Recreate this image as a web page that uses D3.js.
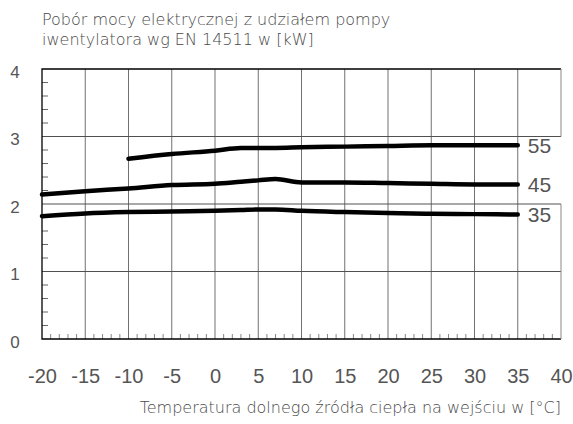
<!DOCTYPE html>
<html>
<head>
<meta charset="utf-8">
<script src="https://cdn.jsdelivr.net/npm/d3@7"></script>
<style>
  body { margin: 0; background: #fff; }
  svg { display: block; font-family: "Liberation Sans", Arial, sans-serif; }
  .caption { font-family: "DejaVu Sans", sans-serif; font-weight: 200; }
</style>
</head>
<body>
<svg id="chart" width="573" height="424"></svg>
<script>
// temperatures of the lower source [°C]
var temps = [-20, -15, -10, -5, 0, 3, 5, 7, 10, 15, 20, 25, 30, 35];
// power consumption [kW] for supply temperatures 35, 45, 55 °C
var s35 = [1.82, 1.86, 1.88, 1.89, 1.90, 1.91, 1.92, 1.92, 1.90, 1.88, 1.865, 1.855, 1.85, 1.845];
var s45 = [2.14, 2.19, 2.23, 2.28, 2.30, 2.33, 2.35, 2.37, 2.32, 2.32, 2.31, 2.30, 2.29, 2.29];
var s55 = [null, null, 2.67, 2.74, 2.79, 2.83, 2.83, 2.83, 2.84, 2.85, 2.86, 2.87, 2.87, 2.87];
var seriesNames = ["35", "45", "55"];
var xTicks = [-20, -15, -10, -5, 0, 5, 10, 15, 20, 25, 30, 35, 40];
var yTicks = [0, 1, 2, 3, 4];
var titleLines = ["Pobór mocy elektrycznej z udziałem pompy", "iwentylatora wg EN 14511 w [kW]"];
var xTitle = "Temperatura dolnego źródła ciepła na wejściu w [°C]";

var svg = d3.select("#chart"),
  margin = {top: 69, right: 12, bottom: 85, left: 42},
  width = +svg.attr("width") - margin.left - margin.right,
  height = +svg.attr("height") - margin.top - margin.bottom,
  g = svg.append("g").attr("transform", "translate(" + margin.left + "," + margin.top + ")");

var x = d3.scaleLinear().domain([-20, 40]).range([0, width]);
var y = d3.scaleLinear().domain([0, 4]).range([height, 0]);

var textColor = "#4a4a4a";
var fmt = function(d) { return String(d); };   // plain hyphen minus

// vertical grid lines
g.selectAll(".vgrid")
  .data(xTicks.slice(1, -1))
  .enter().append("line")
  .attr("x1", function(d) { return x(d); })
  .attr("x2", function(d) { return x(d); })
  .attr("y1", 0).attr("y2", height)
  .attr("stroke", "#707070").attr("stroke-width", 1);

// horizontal grid lines
g.selectAll(".hgrid")
  .data([1, 2, 3])
  .enter().append("line")
  .attr("x1", 0).attr("x2", width)
  .attr("y1", function(d) { return y(d); })
  .attr("y2", function(d) { return y(d); })
  .attr("stroke", "#505050").attr("stroke-width", 1);

// minor ticks on the x axis (every 1 degree)
g.selectAll(".xminor")
  .data(d3.range(-20, 41, 1).filter(function(d) { return d % 5 !== 0; }))
  .enter().append("line")
  .attr("x1", function(d) { return x(d); })
  .attr("x2", function(d) { return x(d); })
  .attr("y1", height).attr("y2", height - 5)
  .attr("stroke", "#888");

// minor ticks on the y axis (every 0.2)
g.selectAll(".yminor")
  .data(d3.range(0.2, 4, 0.2).filter(function(d) { return Math.abs(d - Math.round(d)) > 0.01; }))
  .enter().append("line")
  .attr("x1", 0).attr("x2", 6)
  .attr("y1", function(d) { return y(d); })
  .attr("y2", function(d) { return y(d); })
  .attr("stroke", "#666");

// frame: top, left, bottom black; right light with a gap for the labels
g.append("path")
  .attr("d", "M" + width + ",0H0V" + height + "H" + width)
  .attr("fill", "none").attr("stroke", "#000").attr("stroke-width", 1.3);
g.append("line")
  .attr("x1", width).attr("x2", width).attr("y1", 0).attr("y2", y(3))
  .attr("stroke", "#888");
g.append("line")
  .attr("x1", width).attr("x2", width).attr("y1", y(2)).attr("y2", height)
  .attr("stroke", "#888");

// axes labels
g.append("g")
  .attr("transform", "translate(0," + (height + 30) + ")")
  .call(d3.axisBottom(x).tickValues(xTicks).tickFormat(fmt).tickSize(0).tickPadding(0))
  .call(function(a) { a.select(".domain").remove(); })
  .selectAll("text")
  .attr("fill", "#555")
  .style("font-size", "20px")
  .style("font-family", "inherit");

g.append("g")
  .attr("transform", "translate(-27,3)")
  .call(d3.axisLeft(y).tickValues(yTicks).tickFormat(fmt).tickSize(0).tickPadding(0))
  .call(function(a) { a.select(".domain").remove(); })
  .selectAll("text")
  .attr("text-anchor", "middle")
  .attr("fill", "#555")
  .style("font-size", "17px")
  .style("font-family", "inherit");

// curves
var allSeries = [s35, s45, s55];
var line = d3.line()
  .defined(function(d) { return d[1] !== null; })
  .x(function(d) { return x(d[0]); })
  .y(function(d) { return y(d[1]); })
  .curve(d3.curveMonotoneX);

g.selectAll(".serie")
  .data(allSeries)
  .enter().append("path")
  .attr("class", "serie")
  .attr("d", function(s) { return line(temps.map(function(t, i) { return [t, s[i]]; })); })
  .attr("fill", "none")
  .attr("stroke", "#000")
  .attr("stroke-width", 4.5)
  .attr("stroke-linecap", "round")
  .attr("stroke-linejoin", "round");

// series labels at the right end
g.selectAll(".serieLabel")
  .data(allSeries)
  .enter().append("text")
  .attr("x", x(35) + 10)
  .attr("y", function(s) { return y(s[s.length - 1]); })
  .attr("dy", "0.36em")
  .attr("fill", "#555")
  .style("font-size", "21px")
  .text(function(s, i) { return seriesNames[i]; });

// title
svg.append("text")
  .attr("class", "caption")
  .attr("x", 42).attr("y", 25)
  .attr("fill", textColor)
  .style("font-size", "16px")
  .selectAll("tspan")
  .data(titleLines)
  .enter().append("tspan")
  .attr("x", 42)
  .attr("dy", function(d, i) { return i ? 20 : 0; })
  .text(function(d) { return d; });

// x axis title
svg.append("text")
  .attr("class", "caption")
  .attr("x", margin.left + width).attr("y", 413)
  .attr("text-anchor", "end")
  .attr("fill", textColor)
  .style("font-size", "16px")
  .text(xTitle);
</script>
</body>
</html>
